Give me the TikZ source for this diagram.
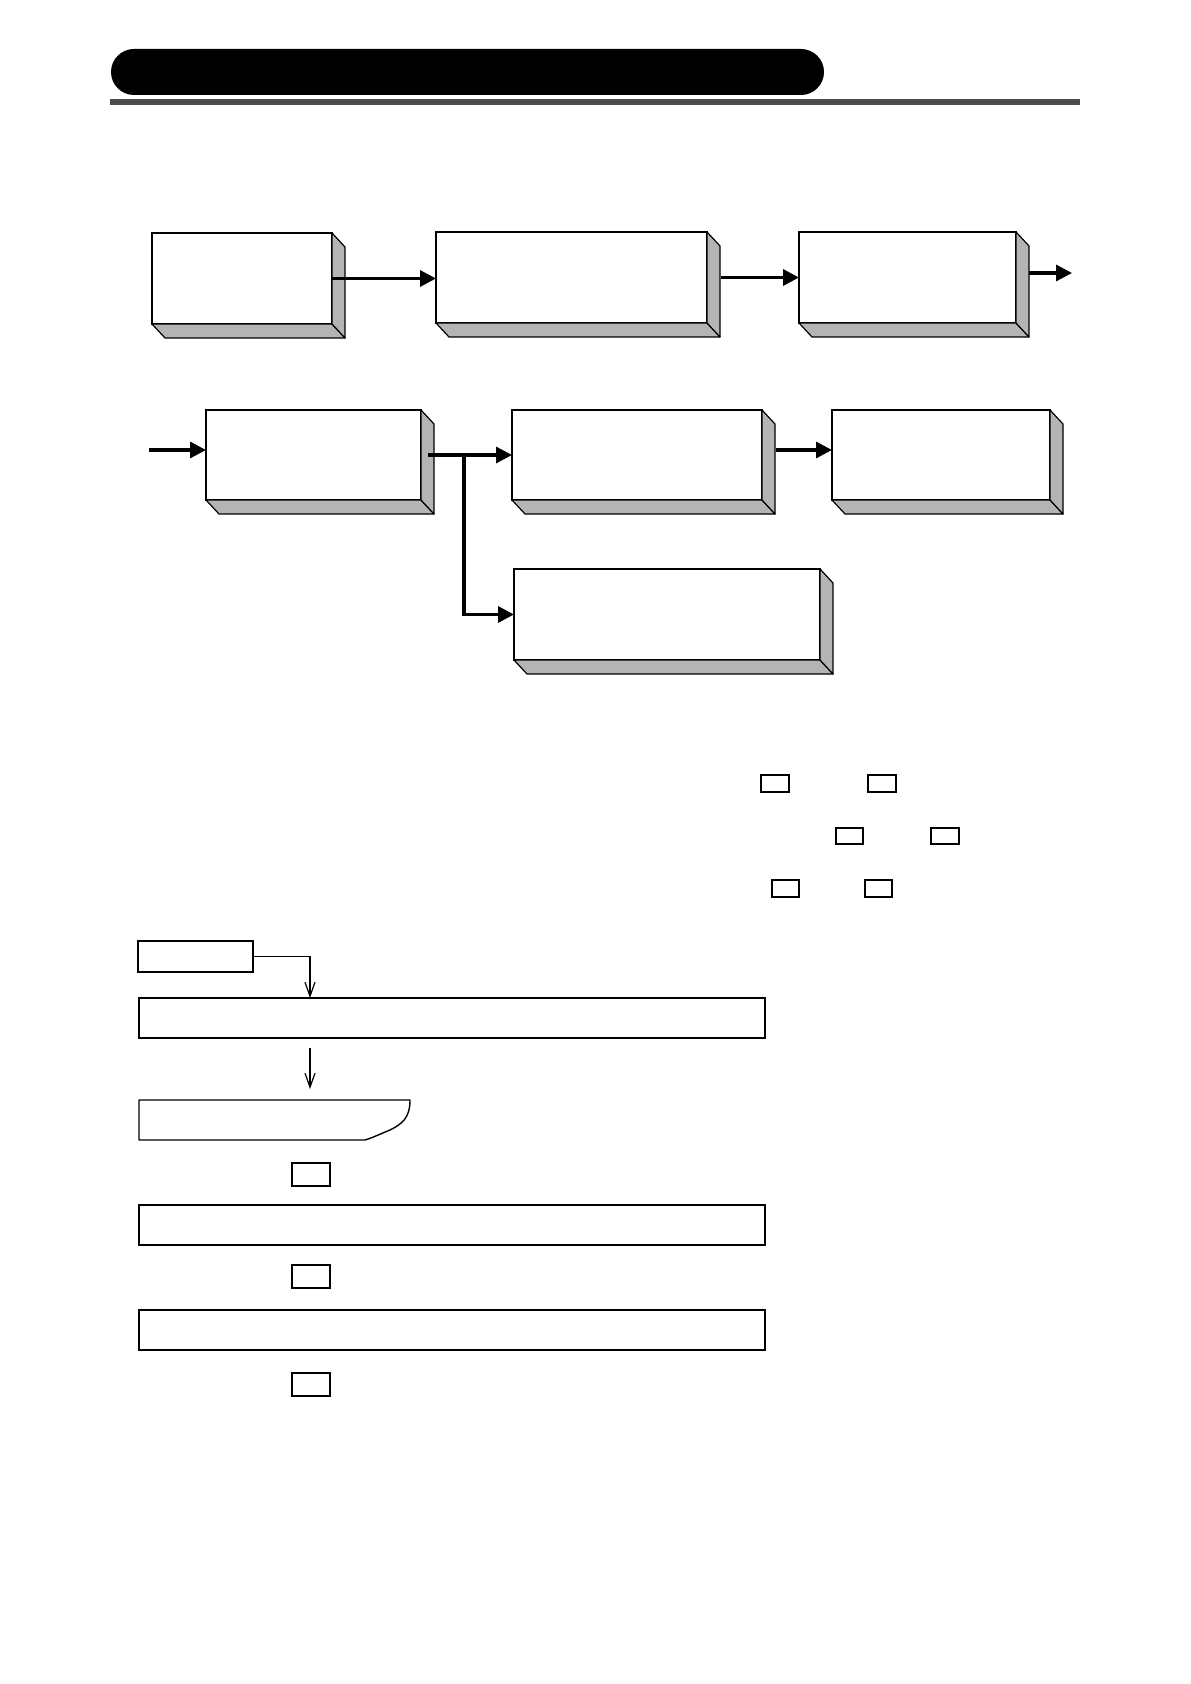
\documentclass[tikz,border=0pt]{standalone}
\usetikzlibrary{arrows.meta,calc}
\definecolor{rulegray}{HTML}{4D4D4D}
\definecolor{depthgray}{HTML}{B4B4B4}
\tikzset{
  frontbox/.style={draw=black, fill=white, line width=0.9pt, inner sep=0pt, outer sep=0pt},
  sidefill/.style={fill=depthgray, draw=black, line width=0.6pt, line join=round},
  thickarrow/.style={line width=1.6pt, -{Triangle[length=8pt,width=8pt]}},
  thinarrow/.style={line width=0.6pt, -{Straight Barb[length=7pt,width=5pt]}},
  flatbox/.style={draw=black, fill=white, line width=0.8pt, inner sep=0pt, outer sep=0pt},
  markbox/.style={draw=black, line width=0.6pt, inner sep=0pt, outer sep=0pt},
  markboxb/.style={draw=black, line width=1pt, inner sep=0pt, outer sep=0pt},
}
\newcommand\rbox[6]{\node[#1, anchor=north west, minimum width={(#5-#3)*0.5pt}, minimum height={(#6-#4)*0.5pt}] (#2) at (#3,#4) {};}
\newcommand\deep[1]{%
  \filldraw[sidefill] (#1.south west) -- (#1.south east) -- ++(13,14) -- ($(#1.south west)+(13,14)$) -- cycle;
  \filldraw[sidefill] (#1.north east) -- ++(13,14) -- ($(#1.south east)+(13,14)$) -- (#1.south east) -- cycle;}
\begin{document}
\begin{tikzpicture}[x=0.5pt,y=-0.5pt]
\useasboundingbox (0,0) rectangle (1190,1684);
% header
\node[fill=black, rounded corners=11.5pt, inner sep=0pt, outer sep=0pt, anchor=north west,
      minimum width={713*0.5pt}, minimum height={46*0.5pt}] (title) at (111,49) {};
\node[fill=rulegray, inner sep=0pt, outer sep=0pt, anchor=north west,
      minimum width={970*0.5pt}, minimum height={6*0.5pt}] (rule) at (110,99) {};
% row 1
\rbox{frontbox}{b1}{152}{233}{332}{324}
\rbox{frontbox}{b2}{436}{232}{707}{323}
\rbox{frontbox}{b3}{799}{232}{1016}{323}
\deep{b1}\deep{b2}\deep{b3}
\draw[thickarrow] (b1.east) -- (b1.east -| b2.west);
\draw[thickarrow] ([xshift=7pt]b2.east) -- (b3.west);
\coordinate (out3) at (1072,273);
\draw[thickarrow] ([xshift=6.5pt]b3.east |- out3) -- (out3);
% row 2
\rbox{frontbox}{b4}{206}{410}{421}{500}
\rbox{frontbox}{b5}{512}{410}{762}{500}
\rbox{frontbox}{b7}{832}{410}{1050}{500}
\rbox{frontbox}{b6}{514}{569}{820}{660}
\deep{b4}\deep{b5}\deep{b7}\deep{b6}
\coordinate (in4) at (149,450);
\draw[thickarrow] (in4) -- (in4 -| b4.west);
\draw[thickarrow] ([xshift=3.5pt]b4.east) -- (b4.east -| b5.west);
\coordinate (br) at (464,456);
\draw[thickarrow] (br) |- (b6.west);
\draw[thickarrow] ([xshift=7pt,yshift=2.5pt]b5.east) -- ([yshift=2.5pt]b5.east -| b7.west);
% small marks in text
\rbox{markboxb}{s1}{761}{775}{789}{792}
\rbox{markboxb}{s2}{868}{775}{896}{792}
\rbox{markbox}{s3}{836}{828}{863}{844}
\rbox{markbox}{s4}{931}{828}{959}{844}
\rbox{markbox}{s5}{772}{880}{799}{897}
\rbox{markbox}{s6}{865}{880}{892}{897}
% bottom flow
\rbox{flatbox}{f0}{138}{941}{253}{972}
\rbox{flatbox}{f1}{139}{998}{765}{1038}
\node[inner sep=0pt, outer sep=0pt, anchor=north west, minimum width={271*0.5pt}, minimum height={40*0.5pt}] (f2) at (139,1100) {};
\draw[line width=0.7pt, line join=round] (f2.south west) -- (f2.north west) -- (f2.north east)
  .. controls ($(f2.north east)+(0,18)$) and ($(f2.north east)+(-8,24)$) .. ($(f2.north east)+(-20,30)$)
  .. controls ($(f2.north east)+(-30,34)$) and ($(f2.south east)+(-38,-2)$) .. ($(f2.south east)+(-45,0)$) -- cycle;
\coordinate (j1) at (310,0);
\draw[thinarrow] (f0.east) -| (j1 |- f1.north);
\draw[thinarrow, shorten <=5pt, shorten >=5.5pt] (j1 |- f1.south) -- (j1 |- f2.north);
\rbox{markbox}{q1}{292}{1163}{330}{1186}
\rbox{flatbox}{f3}{139}{1205}{765}{1245}
\rbox{markbox}{q2}{292}{1265}{330}{1288}
\rbox{flatbox}{f4}{139}{1310}{765}{1350}
\rbox{markbox}{q3}{292}{1373}{330}{1396}
\end{tikzpicture}
\end{document}
